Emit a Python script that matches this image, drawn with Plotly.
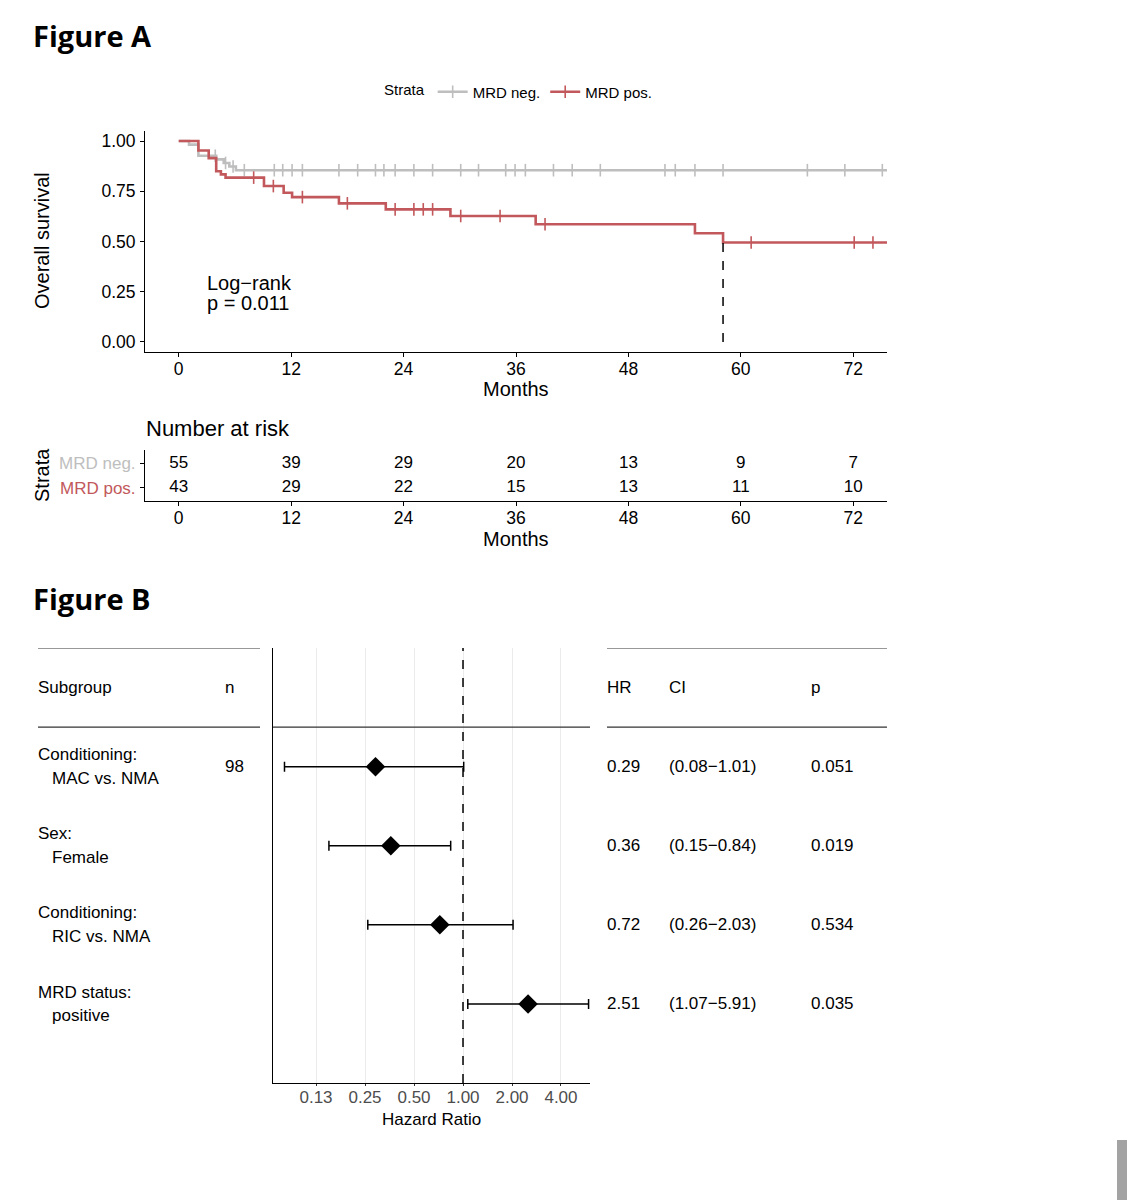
import numpy as np
import plotly.graph_objects as go

W, H = 1135, 1200
FONT = "Liberation Sans, Arial, sans-serif"
TITLE_FONT = "Open Sans, Noto Sans, sans-serif"

# ---------------- Figure A: Kaplan-Meier ----------------
neg_times = [0, 1.1, 2.1, 4.0, 4.8, 5.4, 6.1]
neg_surv = [1.0, 0.982, 0.927, 0.909, 0.891, 0.873, 0.855]
neg_end = 75.6
neg_censor = [3.9, 5.0, 5.8, 7.0, 10.2, 11.1, 12.1, 13.2, 17.1, 19.1, 21.0, 21.9, 23.1,
              25.1, 27.1, 30.1, 32.0, 34.9, 35.9, 37.0, 40.0, 42.0, 45.0, 51.9, 53.0,
              55.1, 58.1, 67.1, 71.1, 75.1]

pos_times = [0, 2.1, 3.2, 4.0, 4.5, 5.0, 9.1, 11.2, 12.1, 17.1, 22.1, 29.0, 38.1, 55.1, 58.1]
pos_surv = [1.0, 0.953, 0.915, 0.85, 0.834, 0.818, 0.776, 0.743, 0.721, 0.69, 0.66,
            0.627, 0.586, 0.541, 0.495]
pos_end = 75.6
pos_censor = [8.0, 10.1, 13.2, 18.0, 23.1, 25.1, 26.1, 27.1, 30.1, 34.3, 39.1, 61.1, 72.1, 74.1]
median_pos = 58.1

strata = ["MRD neg.", "MRD pos."]
colors = ["#BEBEBE", "#C2585B"]

risk_times = [0, 12, 24, 36, 48, 60, 72]
risk_neg = [55, 39, 29, 20, 13, 9, 7]
risk_pos = [43, 29, 22, 15, 13, 11, 10]

# ---------------- Figure B: forest plot ----------------
sub_head = ["Conditioning:", "Sex:", "Conditioning:", "MRD status:"]
sub_level = ["MAC vs. NMA", "Female", "RIC vs. NMA", "positive"]
n_vals = ["98", "", "", ""]
hr = [0.29, 0.36, 0.72, 2.51]
ci_lo = [0.08, 0.15, 0.26, 1.07]
ci_hi = [1.01, 0.84, 2.03, 5.91]
p_vals = ["0.051", "0.019", "0.534", "0.035"]
hr_ticks = [0.125, 0.25, 0.5, 1, 2, 4]
hr_ticktext = ["0.13", "0.25", "0.50", "1.00", "2.00", "4.00"]


def fx(px):
    return px / W


def fy(py):
    return 1 - py / H


def step_val(times, surv, t):
    idx = np.searchsorted(times, t, side="right") - 1
    return np.asarray(surv)[idx]


fig = go.Figure()

# KM curves
curves = [(neg_times, neg_surv, neg_end, neg_censor), (pos_times, pos_surv, pos_end, pos_censor)]
for (times, surv, end, cens), name, col in zip(curves, strata, colors):
    fig.add_trace(go.Scatter(
        x=list(times) + [end], y=list(surv) + [surv[-1]], mode="lines",
        line=dict(color=col, width=2.6, shape="hv"), showlegend=False, hoverinfo="skip",
    ))
    fig.add_trace(go.Scatter(
        x=cens, y=step_val(times, surv, cens), mode="markers",
        marker=dict(symbol="line-ns-open", size=9, color=col, line=dict(color=col, width=1.6)),
        showlegend=False, hoverinfo="skip",
    ))

# legend entries
for name, col in zip(strata, colors):
    fig.add_trace(go.Scatter(
        x=[None], y=[None], mode="lines+markers", name=name,
        line=dict(color=col, width=2.6),
        marker=dict(symbol="line-ns-open", size=9, color=col, line=dict(color=col, width=1.6)),
    ))

# median line
fig.add_shape(type="line", xref="x", yref="y", x0=median_pos, x1=median_pos, y0=0,
              y1=pos_surv[-1], line=dict(color="black", width=1.5, dash="dash"))

# risk table
fig.add_trace(go.Scatter(
    x=risk_times + risk_times, y=[2] * len(risk_neg) + [1] * len(risk_pos),
    text=[str(v) for v in risk_neg + risk_pos], mode="text",
    textfont=dict(size=17, color="black", family=FONT),
    xaxis="x2", yaxis="y2", showlegend=False, hoverinfo="skip",
))

# forest plot
row_y = [len(hr) - i for i in range(len(hr))]
fig.add_trace(go.Scatter(
    x=hr, y=row_y, mode="markers",
    marker=dict(symbol="diamond", size=15, color="black"),
    error_x=dict(type="data", symmetric=False,
                 array=[h - v for h, v in zip(ci_hi, hr)],
                 arrayminus=[h - l for h, l in zip(hr, ci_lo)],
                 color="black", thickness=1.5, width=5),
    xaxis="x3", yaxis="y3", showlegend=False, hoverinfo="skip",
))

axis_common = dict(showline=True, linecolor="black", linewidth=1, ticks="outside",
                   ticklen=4, tickcolor="black", showgrid=False, zeroline=False,
                   tickfont=dict(size=17.5, color="black", family=FONT))

fig.update_layout(
    width=W, height=H, margin=dict(l=0, r=0, t=0, b=0),
    paper_bgcolor="white", plot_bgcolor="white",
    font=dict(family=FONT, color="black"),
    xaxis=dict(domain=[fx(145), fx(887)], range=[-3.6, 75.6], tickvals=risk_times,
               anchor="y", ticklabelstandoff=-3, **axis_common),
    yaxis=dict(domain=[fy(352), fy(131)], range=[-0.05, 1.05],
               tickvals=[0, 0.25, 0.5, 0.75, 1], tickformat=".2f", anchor="x",
               ticklabelstandoff=1, **axis_common),
    xaxis2=dict(domain=[fx(145), fx(887)], range=[-3.6, 75.6], tickvals=risk_times,
                anchor="y2", ticklabelstandoff=-3, **axis_common),
    yaxis2=dict(domain=[fy(501), fy(450)], range=[0.45, 2.55], tickvals=[2, 1],
                ticktext=[f'<span style="color:{c}">{s}</span>' for s, c in zip(strata, colors)],
                anchor="x2", ticklabelstandoff=1,
                **{**axis_common, "tickfont": dict(size=17, family=FONT)}),
    xaxis3=dict(domain=[fx(273), fx(590)], type="log",
                range=[np.log10(0.068), np.log10(6.03)], tickvals=hr_ticks,
                ticktext=hr_ticktext, anchor="y3", showline=True, linecolor="black",
                linewidth=1, ticks="outside", ticklen=2, tickcolor="#333333",
                ticklabelstandoff=-3,
                showgrid=True, gridcolor="#EBEBEB", gridwidth=1, zeroline=False,
                tickfont=dict(size=17, color="#4D4D4D", family=FONT)),
    yaxis3=dict(domain=[fy(1083), fy(648)], range=[0, 5.5], anchor="x3",
                showline=True, linecolor="black", linewidth=1, showticklabels=False,
                ticks="", showgrid=False, zeroline=False),
    legend=dict(orientation="h", x=fx(382), xanchor="left", y=fy(92), yanchor="middle",
                title=dict(text="Strata", side="left", font=dict(size=15, family=FONT)),
                font=dict(size=15, family=FONT), bgcolor="rgba(0,0,0,0)",
                itemwidth=30, tracegroupgap=0),
)

# forest reference line at HR = 1 and separator line across the panel
fig.add_shape(type="line", xref="x3", yref="y3 domain", x0=1, x1=1, y0=0, y1=1,
              line=dict(color="black", width=1.5, dash="dash"))
for seg in [(38, 260), (273, 590), (607, 887)]:
    fig.add_shape(type="line", xref="paper", yref="y3", x0=fx(seg[0]), x1=fx(seg[1]),
                  y0=4.5, y1=4.5, line=dict(color="#333333", width=1.2))
for seg in [(38, 260), (607, 887)]:
    fig.add_shape(type="line", xref="paper", yref="y3", x0=fx(seg[0]), x1=fx(seg[1]),
                  y0=5.5, y1=5.5, line=dict(color="#333333", width=1.2))

# scrollbar of the original screenshot
fig.add_shape(type="rect", xref="paper", yref="paper", x0=fx(1117), x1=fx(1127),
              y0=0, y1=fy(1140), line=dict(width=0), fillcolor="#A3A3A3")

ann = []


def text(x, y, s, size=17, xanchor="left", angle=0, xref="paper", yref="paper", **kw):
    ann.append(dict(x=x, y=y, text=s, xref=xref, yref=yref, showarrow=False,
                    xanchor=xanchor, yanchor="middle", textangle=angle,
                    font=dict(size=size, family=kw.pop("family", FONT),
                              color=kw.pop("color", "black")), **kw))


# Figure titles
text(fx(31), fy(35), "<b>Figure A</b>", size=29, family=TITLE_FONT)
text(fx(31), fy(598), "<b>Figure B</b>", size=29, family=TITLE_FONT)

# KM labels
text(fx(42), fy(241), "Overall survival", size=20, xanchor="center", angle=-90)
text(fx(516), fy(389), "Months", size=20, xanchor="center")
text(2.8, 0.295, "Log\u2212rank", size=20, xref="x", yref="y")
text(2.8, 0.195, "p = 0.011", size=20, xref="x", yref="y")

# risk table labels
text(fx(144), fy(428), "Number at risk", size=22)
text(fx(42), fy(475), "Strata", size=20, xanchor="center", angle=-90)
text(fx(516), fy(539), "Months", size=20, xanchor="center")

# forest table
text(fx(36), 5, "Subgroup", yref="y3")
text(fx(223), 5, "n", yref="y3")
text(fx(605), 5, "HR", yref="y3")
text(fx(667), 5, "CI", yref="y3")
text(fx(809), 5, "p", yref="y3")
for i, yv in enumerate(row_y):
    text(fx(36), yv + 0.15, sub_head[i], yref="y3")
    text(fx(50), yv - 0.15, sub_level[i], yref="y3")
    if n_vals[i]:
        text(fx(223), yv, n_vals[i], yref="y3")
    text(fx(605), yv, f"{hr[i]:.2f}", yref="y3")
    text(fx(667), yv, f"({ci_lo[i]:.2f}\u2212{ci_hi[i]:.2f})", yref="y3")
    text(fx(809), yv, p_vals[i], yref="y3")
text(fx(431), fy(1119), "Hazard Ratio", xanchor="center")

fig.update_layout(annotations=ann)

fig.write_html("out.html", config={"displayModeBar": False},
               post_script="document.body.style.margin='0';")
